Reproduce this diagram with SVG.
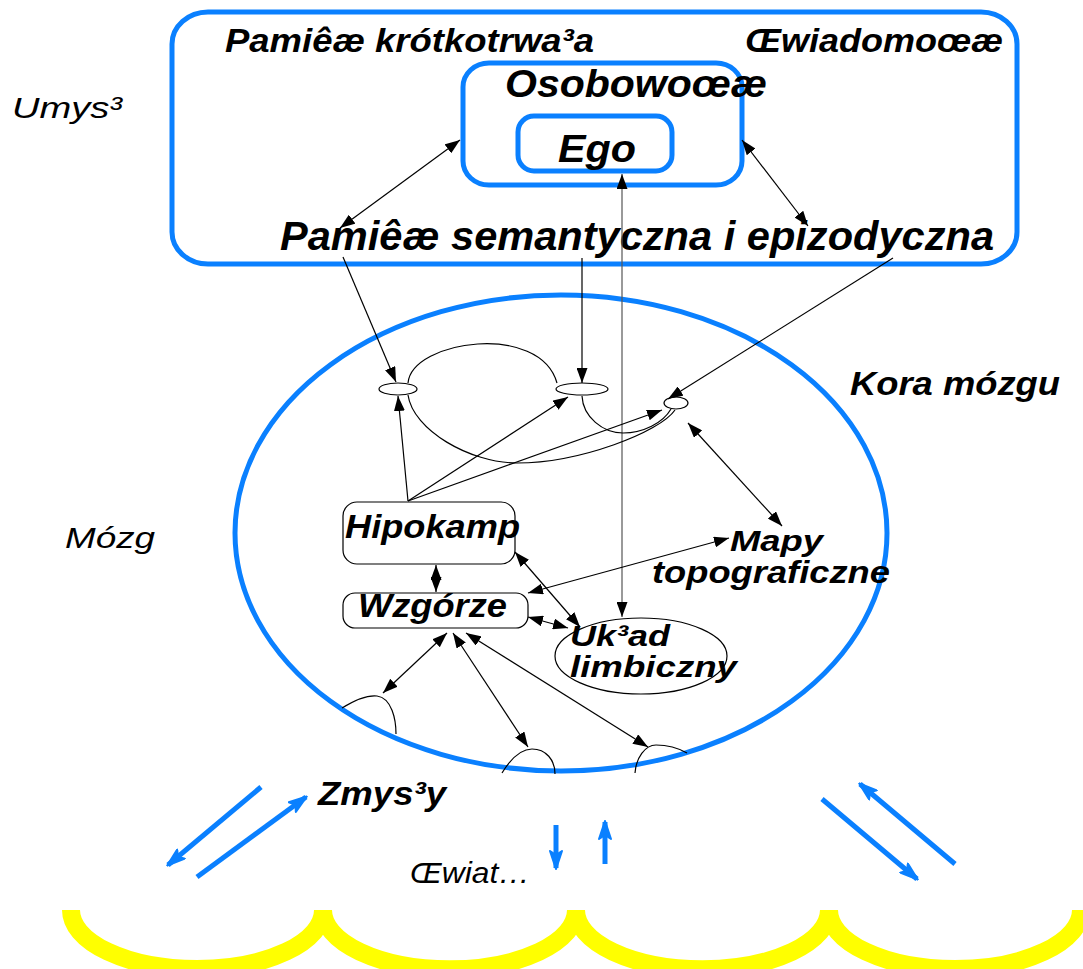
<svg xmlns="http://www.w3.org/2000/svg" width="1083" height="969" viewBox="0 0 1083 969">
  <style>
    .bi { font-family: "Liberation Sans", Arial, sans-serif; font-weight: bold; font-style: italic; fill: #000; }
    .it { font-family: "Liberation Sans", Arial, sans-serif; font-style: italic; fill: #000; }
    .frame { fill: none; stroke: #0a80ff; stroke-width: 5; }
    .box { fill: #fff; stroke: #000; stroke-width: 1.2; }
    .ln { fill: none; stroke: #000; stroke-width: 1.2; }
    .one { marker-end: url(#ah); }
    .two { marker-start: url(#ah); marker-end: url(#ah); }
    .sense { fill: none; stroke: #0a80ff; stroke-width: 5; marker-end: url(#bh); }
    .wave { fill: none; stroke: #ffff00; stroke-width: 18; }
  </style>
  <defs>
    <marker id="ah" viewBox="0 0 15 11" refX="15" refY="5.5" markerWidth="15" markerHeight="11" markerUnits="userSpaceOnUse" orient="auto-start-reverse">
      <path d="M0,0 L15,5.5 L0,11 z" fill="#000"/>
    </marker>
    <marker id="bh" viewBox="0 0 20 14" refX="18" refY="7" markerWidth="20" markerHeight="14" markerUnits="userSpaceOnUse" orient="auto">
      <path d="M1,1 L19,7 L1,13 L5,7 z" fill="#0a80ff" stroke="#0a80ff" stroke-width="2" stroke-linejoin="round"/>
    </marker>
  </defs>

  <rect width="1083" height="969" fill="#fff"/>

  <!-- mind: nested frames -->
  <g id="umysl">
    <rect class="frame" x="172" y="12" width="845" height="252" rx="36" ry="32"/>
    <text class="it" x="12" y="118" font-size="30" textLength="110" lengthAdjust="spacingAndGlyphs">Umys³</text>
    <text class="bi" x="225" y="52" font-size="33" textLength="369" lengthAdjust="spacingAndGlyphs">Pamiêæ krótkotrwa³a</text>
    <text class="bi" x="745" y="52" font-size="33" textLength="258" lengthAdjust="spacingAndGlyphs">Œwiadomoœæ</text>
  </g>
  <g id="osobowosc">
    <rect class="frame" x="463" y="63" width="279" height="122" rx="26" ry="24"/>
    <text class="bi" x="505" y="97" font-size="39" textLength="262" lengthAdjust="spacingAndGlyphs">Osobowoœæ</text>
  </g>
  <g id="ego">
    <rect class="frame" x="518" y="116" width="154" height="55" rx="16" ry="16"/>
    <text class="bi" x="558" y="162" font-size="39" textLength="78" lengthAdjust="spacingAndGlyphs">Ego</text>
  </g>
  <g id="pamiec-semantyczna">
    <text class="bi" x="280" y="250" font-size="41" textLength="714" lengthAdjust="spacingAndGlyphs">Pamiêæ semantyczna i epizodyczna</text>
  </g>

  <!-- brain -->
  <g id="mozg">
    <ellipse class="frame" cx="561" cy="533" rx="326" ry="238"/>
    <text class="it" x="65" y="548" font-size="30" textLength="90" lengthAdjust="spacingAndGlyphs">Mózg</text>
  </g>
  <g id="kora">
    <text class="bi" x="850" y="395" font-size="33" textLength="210" lengthAdjust="spacingAndGlyphs">Kora mózgu</text>
    <ellipse class="box" cx="398" cy="389" rx="19" ry="6"/>
    <ellipse class="box" cx="582" cy="389" rx="26" ry="6"/>
    <ellipse class="box" cx="676" cy="403" rx="12" ry="6"/>
  </g>
  <g id="hipokamp">
    <rect class="box" x="343" y="502" width="172" height="62" rx="14" ry="14"/>
    <text class="bi" x="345" y="538" font-size="33" textLength="175" lengthAdjust="spacingAndGlyphs">Hipokamp</text>
  </g>
  <g id="wzgorze">
    <rect class="box" x="343" y="593" width="185" height="35" rx="12" ry="12"/>
    <text class="bi" x="358" y="617" font-size="33" textLength="149" lengthAdjust="spacingAndGlyphs">Wzgórze</text>
  </g>
  <g id="mapy">
    <text class="bi" x="730" y="551" font-size="30" textLength="93" lengthAdjust="spacingAndGlyphs">Mapy</text>
    <text class="bi" x="652" y="583" font-size="31" textLength="238" lengthAdjust="spacingAndGlyphs">topograficzne</text>
  </g>
  <g id="uklad-limbiczny">
    <ellipse cx="641" cy="656" rx="86" ry="38" fill="none" stroke="#000" stroke-width="1.2"/>
    <text class="bi" x="570" y="646" font-size="29" textLength="100" lengthAdjust="spacingAndGlyphs">Uk³ad</text>
    <text class="bi" x="570" y="677" font-size="30" textLength="167" lengthAdjust="spacingAndGlyphs">limbiczny</text>
  </g>
  <g id="receptory">
    <path class="ln" d="M342,708 C355,700 368,695 377,696 C392,698 396,720 396,734"/>
    <path class="ln" d="M502,773 C510,760 520,749 532,749 C546,749 555,760 555,774"/>
    <path class="ln" d="M635,773 C636,758 645,745 656,745 C668,745 680,749 687,753"/>
  </g>

  <!-- senses and the world -->
  <g id="zmysly">
    <text class="bi" x="318" y="805" font-size="34" textLength="128" lengthAdjust="spacingAndGlyphs">Zmys³y</text>
  </g>
  <g id="swiat">
    <text class="it" x="410" y="883" font-size="29" textLength="120" lengthAdjust="spacingAndGlyphs">Œwiat…</text>
    <path class="wave" d="M71,910 A126,59 0 0 0 323,910 A126,59 0 0 0 576,910 A126,59 0 0 0 829,910 A126,59 0 0 0 1081,910"/>
  </g>

  <g id="connectors">
    <!-- mind level -->
    <line class="ln two" x1="460" y1="140" x2="340" y2="228"/>
    <line class="ln two" x1="742" y1="140" x2="808" y2="226"/>
    <line class="ln one" x1="343" y1="257" x2="396" y2="382"/>
    <line class="ln one" x1="582" y1="258" x2="582" y2="383"/>
    <line class="ln one" x1="893" y1="258" x2="668" y2="399"/>
    <line class="ln two" x1="622" y1="174" x2="622" y2="617" style="stroke:#555"/>
    <!-- cortex links -->
    <path class="ln" d="M408,383 C412,340 540,322 557,383"/>
    <path class="ln" d="M408,395 C413,430 470,463 517,463 C580,463 660,432 675,410"/>
    <path class="ln" d="M582,396 C583,417 603,433 623,433 C643,433 663,423 671,409"/>
    <line class="ln one" x1="408" y1="501" x2="398" y2="396"/>
    <line class="ln one" x1="408" y1="501" x2="568" y2="397"/>
    <line class="ln one" x1="408" y1="501" x2="662" y2="410"/>
    <line class="ln two" x1="688" y1="423" x2="782" y2="526"/>
    <!-- subcortical -->
    <line class="ln two" x1="436" y1="565" x2="436" y2="592"/>
    <line class="ln two" x1="515" y1="552" x2="580" y2="627"/>
    <line class="ln two" x1="528" y1="593" x2="729" y2="538"/>
    <line class="ln two" x1="528" y1="617" x2="568" y2="628"/>
    <line class="ln two" x1="447" y1="633" x2="383" y2="693"/>
    <line class="ln two" x1="453" y1="633" x2="528" y2="747"/>
    <line class="ln two" x1="466" y1="633" x2="648" y2="747"/>
    <!-- senses -->
    <line class="sense" x1="261" y1="787" x2="168" y2="865"/>
    <line class="sense" x1="197" y1="877" x2="306" y2="797"/>
    <line class="sense" x1="556" y1="825" x2="556" y2="868"/>
    <line class="sense" x1="605" y1="864" x2="605" y2="822"/>
    <line class="sense" x1="822" y1="799" x2="917" y2="879"/>
    <line class="sense" x1="955" y1="864" x2="860" y2="784"/>
  </g>
</svg>
